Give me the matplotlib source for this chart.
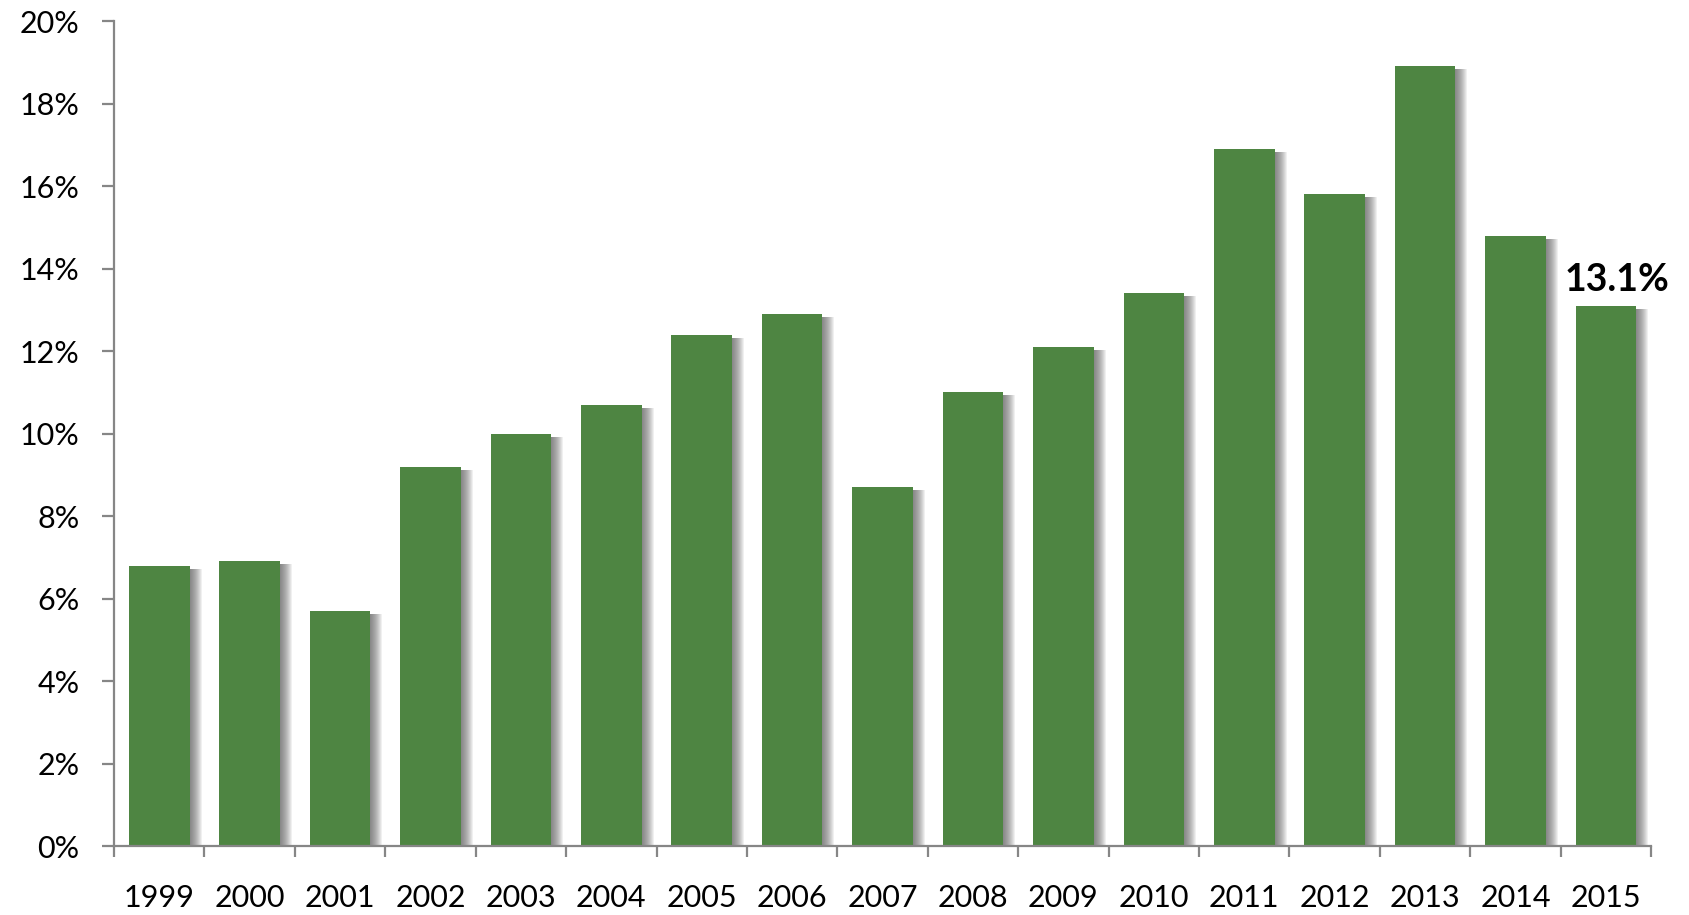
import matplotlib
matplotlib.use("Agg")
import matplotlib.pyplot as plt
import matplotlib.transforms as mtransforms
import numpy as np

years = ["1999", "2000", "2001", "2002", "2003", "2004", "2005", "2006", "2007",
         "2008", "2009", "2010", "2011", "2012", "2013", "2014", "2015"]
values = [6.8, 6.9, 5.7, 9.2, 10.0, 10.7, 12.4, 12.9, 8.7,
          11.0, 12.1, 13.4, 16.9, 15.8, 18.9, 14.8, 13.1]
y_ticks = [0, 2, 4, 6, 8, 10, 12, 14, 16, 18, 20]
y_tick_labels = [f"{t}%" for t in y_ticks]
highlight_label = "13.1%"

plt.rcParams['font.family'] = ['Lato', 'DejaVu Sans']

fig = plt.figure(figsize=(16.9, 9.15), dpi=100)
ax = fig.add_axes([0.0675, 0.0754, 0.9095, 0.9016])

x = np.arange(len(years))
bar_w = 0.67
green = "#4e8542"

# soft drop shadow: stacked translucent copies shifted right/down
for k in range(1, 13):
    off = mtransforms.ScaledTranslation(k / 100.0, -3 / 100.0, fig.dpi_scale_trans)
    ax.bar(x, values, width=bar_w, color="#555555", alpha=0.085,
           linewidth=0, zorder=1, transform=ax.transData + off)

ax.bar(x, values, width=bar_w, color=green, linewidth=0, zorder=2)

ax.set_xlim(-0.5, len(years) - 0.5)
ax.set_ylim(0, 20)

ax.set_yticks(y_ticks)
ax.set_yticklabels(y_tick_labels)

# boundary ticks between categories, labels at the centres
ax.set_xticks(np.arange(-0.5, len(years), 1.0))
ax.set_xticklabels([])
ax.set_xticks(x, minor=True)
ax.set_xticklabels(years, minor=True)

axis_color = "#868686"
for side in ["top", "right"]:
    ax.spines[side].set_visible(False)
for side in ["left", "bottom"]:
    ax.spines[side].set_color(axis_color)
    ax.spines[side].set_linewidth(1.6)
    ax.spines[side].set_zorder(5)

ax.tick_params(axis="y", which="major", length=9, width=1.6, color=axis_color,
               labelsize=22, pad=16, labelcolor="black")
ax.tick_params(axis="x", which="major", length=8, width=1.6, color=axis_color)
ax.tick_params(axis="x", which="minor", length=0, labelsize=22, pad=27,
               labelcolor="black")

ax.annotate(highlight_label, xy=(x[-1], values[-1]), xytext=(8, 6),
            textcoords="offset points", ha="center", va="bottom",
            fontsize=27, fontweight="bold", color="black")

fig.savefig("out.png", dpi=100, facecolor="white")
